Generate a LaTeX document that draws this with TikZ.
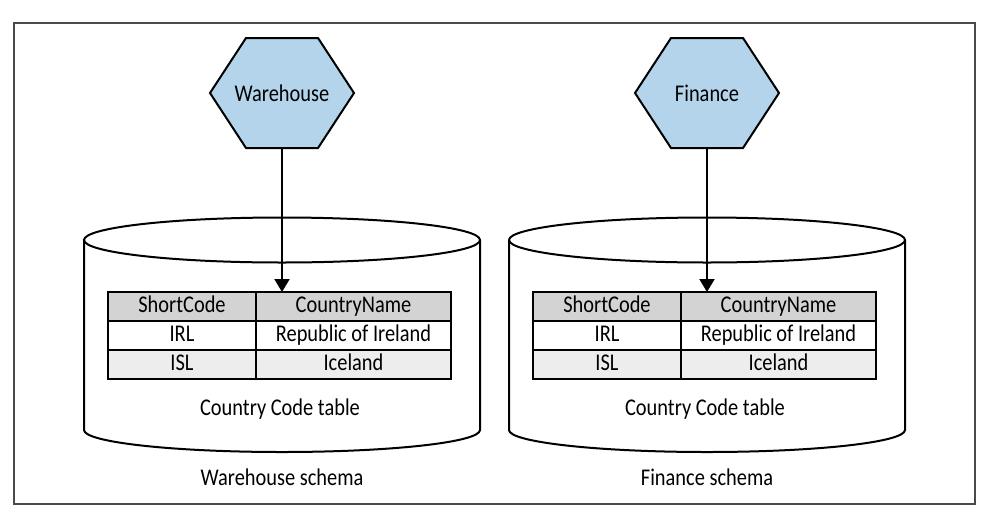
\documentclass[tikz,border=0pt]{standalone}
\usepackage{fontspec}
\setmainfont{Carlito}[FakeStretch=0.85]
\usepackage{tikz}
\usetikzlibrary{arrows.meta,positioning,shapes.symbols}
\definecolor{hexblue}{HTML}{B4D4EC}
\definecolor{headgray}{HTML}{D3D3D3}
\definecolor{rowgray}{HTML}{EDEDED}
\definecolor{framegray}{HTML}{4A4A4A}
\tikzset{
  service/.style={signal,signal to=west and east,signal from=nowhere,
    signal pointer angle=113.6,draw=black,fill=hexblue,line width=1pt,
    minimum width=72pt,minimum height=55pt,inner sep=0pt,
    font=\fontsize{12}{14}\selectfont},
  cell/.style={draw=black,line width=1pt,outer sep=0pt,inner sep=0pt,
    minimum height=14.5pt,text height=8.5pt,text depth=2.5pt,
    font=\fontsize{12}{14}\selectfont},
  keycol/.style={cell,minimum width=74pt},
  namecol/.style={cell,minimum width=97.5pt},
  caption/.style={font=\fontsize{12}{14}\selectfont},
  dbwall/.style={line width=1pt,draw=black},
  arrow/.style={-{Triangle[length=6.5pt,width=7.5pt]},line width=1pt,draw=black}
}
\begin{document}
\begin{tikzpicture}[x=0.5pt,y=-0.5pt]
\useasboundingbox (0,0) rectangle (988,514);
\draw[framegray,line width=0.6pt] (14,23) rectangle (975,504);
\foreach \c/\id/\name in {282/wh/Warehouse,707/fin/Finance}{
  % schema cylinder
  \draw[dbwall] (\c,240) ellipse [x radius=198,y radius=22.5];
  \draw[dbwall] (\c-198,240) -- (\c-198,430)
    arc[start angle=180,end angle=0,x radius=198,y radius=22] -- (\c+198,240);
  % service
  \node[service] (\id-hex) at (\c,93) {\makebox[0pt]{\name}};
  % country code table
  \node[keycol,fill=headgray] (\id-k0) at (\c-100,306.5) {ShortCode};
  \node[namecol,fill=headgray,right=0pt of \id-k0] (\id-n0) {CountryName};
  \node[keycol,below=0pt of \id-k0] (\id-k1) {IRL};
  \node[namecol,below=0pt of \id-n0] (\id-n1) {Republic of Ireland};
  \node[keycol,fill=rowgray,below=0pt of \id-k1] (\id-k2) {ISL};
  \node[namecol,fill=rowgray,below=0pt of \id-n1] (\id-n2) {Iceland};
  \node[caption] (\id-tbl) at (\c-2,409) {Country Code table};
  \node[caption] (\id-sch) at (\c,477) {\name\ schema};
  \draw[arrow] (\id-hex.south) -- (\id-hex.south |- \id-n0.north);
}
\end{tikzpicture}
\end{document}
